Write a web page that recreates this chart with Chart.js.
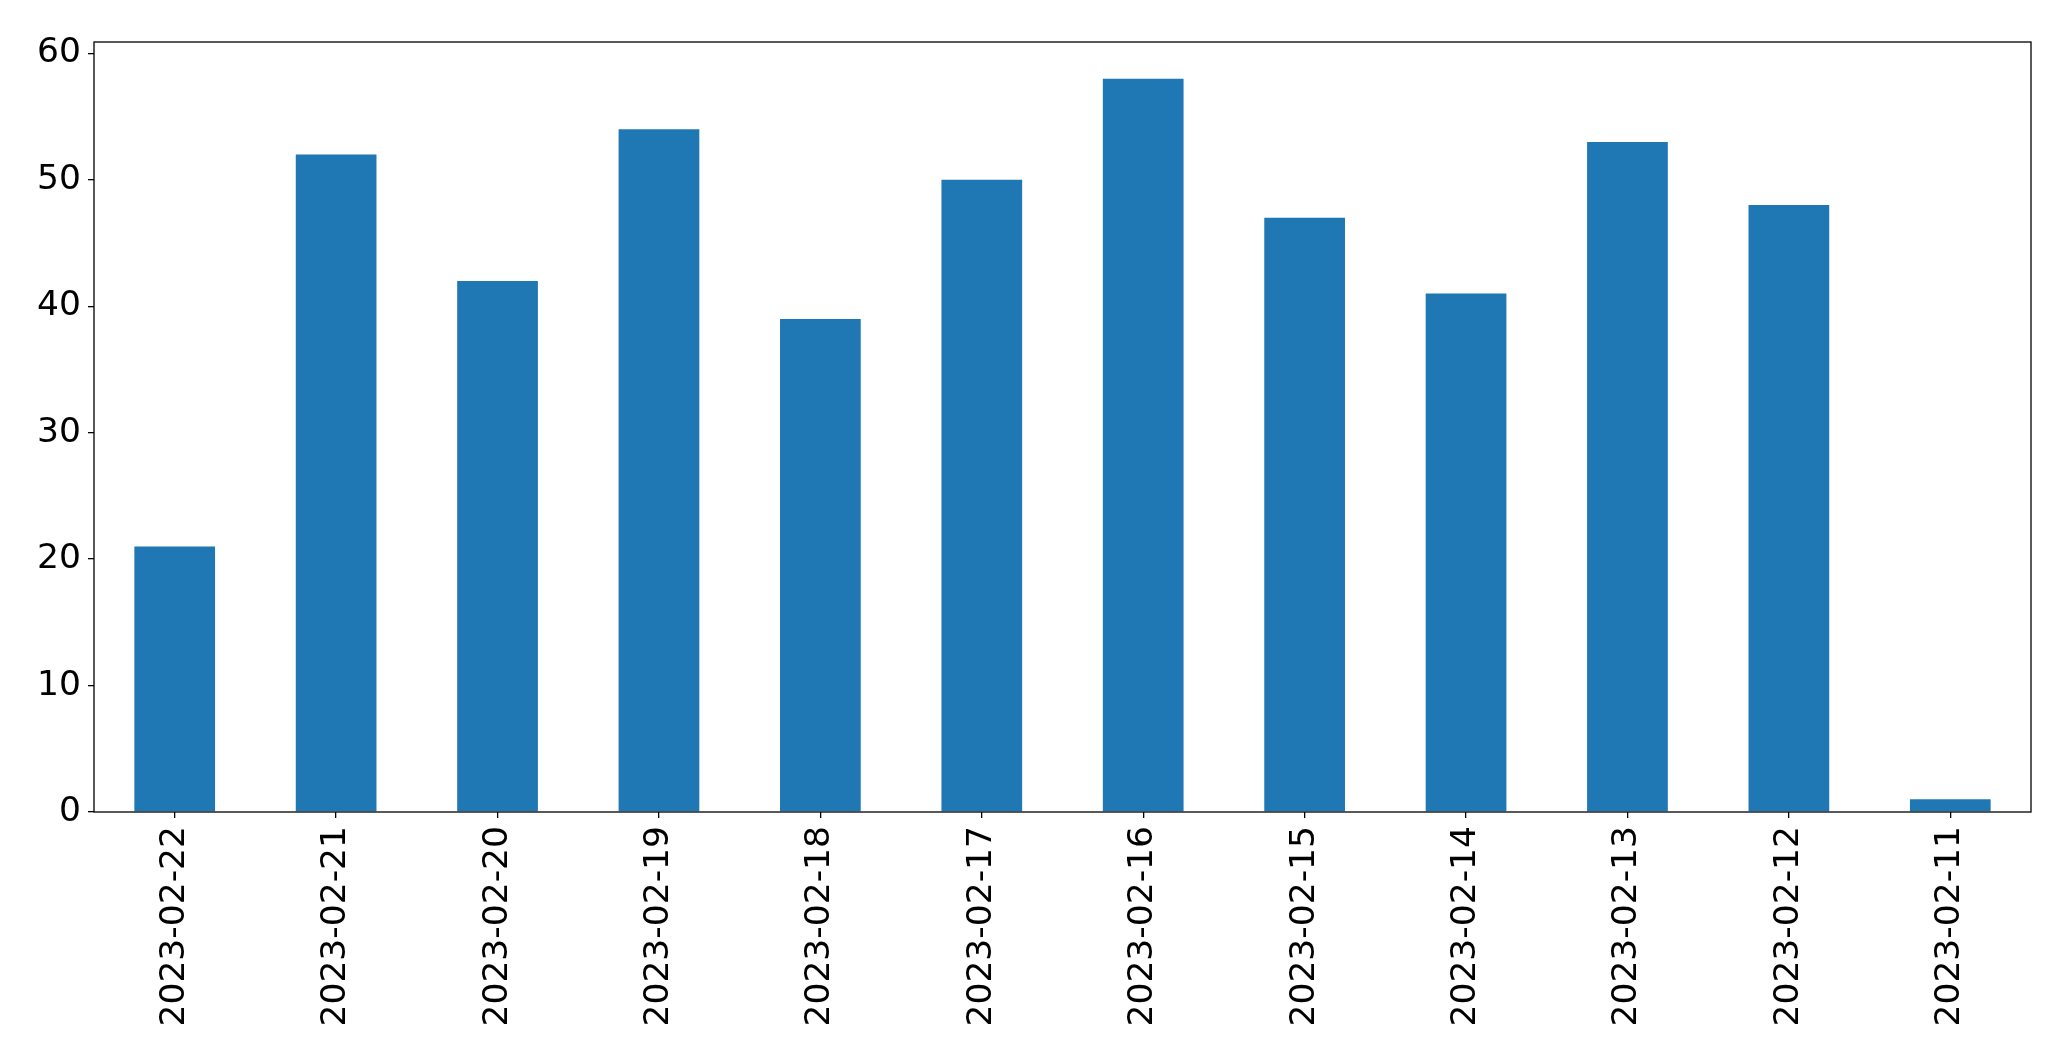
<!DOCTYPE html>
<html>
<head>
<meta charset="utf-8">
<script src="https://cdn.jsdelivr.net/npm/chart.js@4/dist/chart.umd.min.js"></script>
<style>
  html, body { margin: 0; padding: 0; background: #fff; }
  #wrap { width: 2071px; height: 1064px; }
</style>
</head>
<body>
<div id="wrap"><canvas id="c" width="2071" height="1064"></canvas></div>
<script>
const categories = ["2023-02-22","2023-02-21","2023-02-20","2023-02-19","2023-02-18","2023-02-17","2023-02-16","2023-02-15","2023-02-14","2023-02-13","2023-02-12","2023-02-11"];
const counts = [21, 52, 42, 54, 39, 50, 58, 47, 41, 53, 48, 1];
const yTickValues = [0, 10, 20, 30, 40, 50, 60];

const frame = {
  id: 'frame',
  afterDraw(chart) {
    const a = chart.chartArea, ctx = chart.ctx;
    ctx.save();
    ctx.strokeStyle = '#000';
    ctx.lineWidth = 1.3;
    ctx.strokeRect(a.left, a.top, a.right - a.left, a.bottom - a.top);
    ctx.restore();
  }
};

new Chart(document.getElementById('c'), {
  type: 'bar',
  data: {
    labels: categories,
    datasets: [{
      data: counts,
      backgroundColor: '#1f77b4',
      borderWidth: 0,
      barPercentage: 0.5,
      categoryPercentage: 1.0
    }]
  },
  options: {
    responsive: false,
    animation: false,
    devicePixelRatio: 1,
    layout: { padding: { top: 42, right: 40, left: 0, bottom: 0 } },
    plugins: { legend: { display: false }, tooltip: { enabled: false } },
    scales: {
      x: {
        offset: true,
        grid: { display: true, drawOnChartArea: false, drawTicks: true, tickLength: 6, color: '#000', offset: false, lineWidth: 1.3 },
        border: { display: false },
        ticks: { color: '#000', font: { family: 'DejaVu Sans', size: 34.5 }, minRotation: 90, maxRotation: 90, padding: 8, autoSkip: false },
        afterFit(s) { s.height = 252; }
      },
      y: {
        min: 0,
        max: 60.9,
        grid: { display: true, drawOnChartArea: false, drawTicks: true, tickLength: 6, color: '#000', lineWidth: 1.3 },
        border: { display: false },
        ticks: { color: '#000', font: { family: 'DejaVu Sans', size: 34.5 }, padding: 7 },
        afterBuildTicks(s) { s.ticks = yTickValues.map(v => ({ value: v })); },
        afterFit(s) { s.width = 94; }
      }
    }
  },
  plugins: [frame]
});
</script>
</body>
</html>
